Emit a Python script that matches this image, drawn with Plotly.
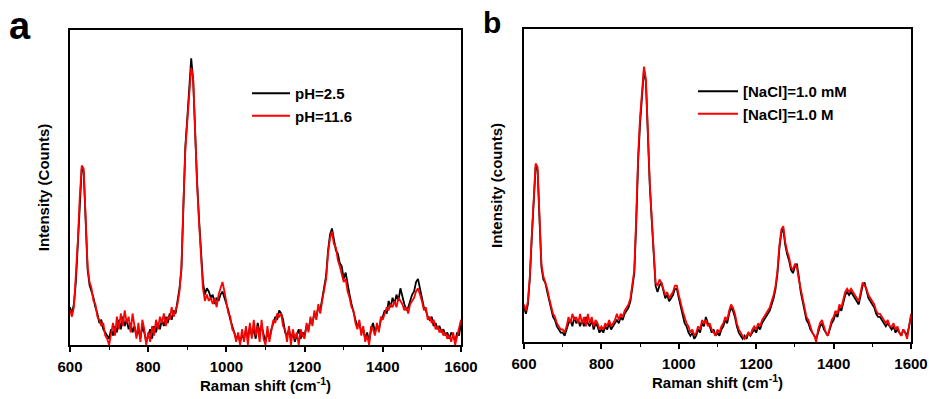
import plotly.graph_objects as go

# Raman shift grid (cm^-1), 5 cm^-1 steps
RAMAN_SHIFT = list(range(600, 1605, 5))

# Panel a: relative intensity (0-100 of plot height)
A_PH_2_5 = [
    12, 10, 13, 20, 32, 46, 56, 55, 40, 24,
    19, 17, 15, 12, 10, 7, 8, 5, 4, 3,
    2, 5, 3, 6, 4, 8, 5, 9, 6, 8,
    5, 7, 4, 6, 3, 5, 2, 6, 4, 1,
    3, 5, 2, 6, 4, 7, 5, 8, 6, 9,
    7, 10, 8, 11, 10, 14, 18, 24, 44, 63,
    72, 80, 91, 84, 66, 52, 40, 28, 20, 16,
    18, 17, 15, 16, 13, 15, 14, 16, 17, 15,
    13, 11, 8, 6, 4, 2, 3, 1, 3, 2,
    5, 2, 6, 3, 5, 2, 7, 4, 6, 3,
    1, 4, 2, 5, 7, 9, 8, 11, 10, 8,
    4, 3, 5, 2, 4, 1, 3, 5, 2, 4,
    3, 6, 5, 8, 7, 10, 9, 12, 11, 15,
    18, 22, 30, 35, 37, 33, 30, 29, 26, 25,
    21, 23, 19, 16, 13, 10, 8, 6, 7, 4,
    5, 2, 4, 1, 5, 7, 4, 6, 5, 8,
    9, 11, 10, 14, 12, 15, 13, 16, 14, 18,
    15, 13, 11, 12, 14, 16, 17, 20, 21, 18,
    15, 12, 11, 9, 8, 9, 6, 7, 5, 6,
    4, 5, 3, 4, 2, 4, 3, 1, 4, 3,
    7,
]
A_PH_11_6 = [
    11, 9, 12, 21, 33, 47, 57, 56, 41, 25,
    20, 18, 14, 13, 9, 8, 6, 7, 3, 2,
    0, 4, 7, 3, 9, 5, 10, 6, 11, 7,
    9, 4, 10, 6, 2, 7, 1, 8, 5, 0,
    4, 1, 6, 3, 8, 5, 9, 7, 10, 6,
    9, 8, 12, 9, 11, 13, 17, 25, 45, 62,
    71, 79, 88, 85, 67, 51, 39, 27, 18, 14,
    16, 14, 15, 13, 15, 12, 16, 18, 20, 17,
    14, 10, 9, 5, 4, 1, 4, 0, 5, 1,
    6, 0, 7, 2, 8, 3, 6, 1, 8, 2,
    0, 6, 1, 4, 8, 7, 10, 9, 10, 6,
    5, 1, 6, 0, 5, 2, 4, 0, 5, 3,
    2, 7, 4, 9, 6, 11, 8, 13, 10, 14,
    17, 21, 29, 34, 36, 32, 31, 27, 25, 22,
    20, 21, 17, 15, 12, 11, 7, 5, 8, 3,
    6, 1, 3, 0, 6, 5, 3, 7, 4, 9,
    8, 10, 12, 11, 13, 12, 14, 12, 15, 14,
    13, 11, 12, 10, 13, 14, 15, 17, 18, 16,
    14, 11, 12, 8, 9, 7, 8, 5, 6, 4,
    5, 3, 4, 2, 3, 1, 4, 0, 3, 5,
    8,
]

# Panel b
B_NACL_1MM = [
    11, 9, 12, 20, 33, 47, 56, 55, 38, 24,
    20, 19, 16, 13, 10, 8, 7, 5, 4, 3,
    3, 2, 4, 6, 7, 5, 8, 6, 7, 5,
    7, 5, 8, 6, 5, 7, 4, 6, 5, 3,
    4, 3, 5, 4, 6, 4, 5, 6, 7, 6,
    8, 7, 9, 10, 11, 13, 17, 22, 38, 58,
    70, 80, 87, 83, 64, 50, 39, 27, 18, 16,
    18, 19, 16, 14, 15, 13, 14, 15, 17, 17,
    14, 11, 9, 6, 5, 3, 2, 3, 1, 2,
    4, 3, 6, 5, 8, 6, 5, 3, 4, 2,
    3, 2, 4, 5, 7, 6, 9, 11, 10, 8,
    5, 3, 2, 1, 2, 1, 3, 2, 3, 4,
    3, 5, 4, 6, 7, 8, 9, 10, 12, 14,
    17, 22, 30, 35, 36, 31, 28, 26, 23, 22,
    24, 25, 21, 16, 13, 10, 7, 6, 4, 3,
    2, 1, 3, 5, 6, 4, 3, 2, 4, 6,
    7, 9, 8, 11, 10, 13, 15, 16, 15, 16,
    15, 14, 13, 12, 15, 18, 19, 16, 14, 13,
    12, 11, 9, 8, 8, 7, 6, 5, 6, 5,
    4, 5, 3, 4, 3, 2, 4, 3, 2, 5,
    8,
]
B_NACL_1M = [
    12, 10, 13, 21, 34, 48, 57, 56, 39, 25,
    21, 19, 17, 14, 11, 9, 8, 6, 5, 4,
    4, 3, 5, 8, 6, 9, 7, 8, 6, 9,
    6, 8, 5, 9, 6, 8, 5, 7, 6, 4,
    5, 4, 6, 5, 7, 5, 6, 7, 9, 7,
    9, 8, 10, 11, 12, 14, 18, 23, 40, 60,
    72, 81, 88, 84, 65, 51, 40, 28, 19, 18,
    20, 19, 17, 15, 16, 14, 15, 16, 18, 18,
    15, 12, 10, 8, 6, 5, 3, 4, 2, 3,
    5, 4, 7, 6, 7, 5, 6, 4, 3, 2,
    4, 3, 5, 6, 8, 7, 10, 12, 11, 9,
    6, 4, 3, 2, 1, 2, 3, 2, 4, 5,
    4, 6, 5, 7, 8, 9, 10, 11, 13, 15,
    18, 23, 31, 36, 37, 32, 29, 27, 24, 23,
    25, 24, 20, 17, 14, 11, 8, 7, 5, 3,
    2, 0, 4, 6, 7, 5, 3, 2, 5, 7,
    8, 10, 9, 12, 11, 14, 16, 17, 16, 17,
    16, 15, 14, 13, 16, 19, 18, 17, 15, 14,
    13, 12, 10, 9, 9, 8, 7, 6, 7, 5,
    5, 6, 4, 5, 3, 2, 4, 3, 1, 5,
    9,
]

X_TICKS = [600, 800, 1000, 1200, 1400, 1600]

FONT = "Arial, Liberation Sans, sans-serif"
BLACK = "#000000"
RED = "#ff0000"
LW = 1.8

fig = go.Figure()
fig.add_trace(go.Scatter(x=RAMAN_SHIFT, y=A_PH_2_5, mode="lines", name="<b>pH=2.5</b>",
                         line=dict(color=BLACK, width=LW), xaxis="x", yaxis="y", legend="legend"))
fig.add_trace(go.Scatter(x=RAMAN_SHIFT, y=A_PH_11_6, mode="lines", name="<b>pH=11.6</b>",
                         line=dict(color=RED, width=LW), xaxis="x", yaxis="y", legend="legend"))
fig.add_trace(go.Scatter(x=RAMAN_SHIFT, y=B_NACL_1MM, mode="lines", name="<b>[NaCl]=1.0 mM</b>",
                         line=dict(color=BLACK, width=LW), xaxis="x2", yaxis="y2", legend="legend2"))
fig.add_trace(go.Scatter(x=RAMAN_SHIFT, y=B_NACL_1M, mode="lines", name="<b>[NaCl]=1.0 M</b>",
                         line=dict(color=RED, width=LW), xaxis="x2", yaxis="y2", legend="legend2"))

xaxis_common = dict(
    range=[600, 1600], tickvals=X_TICKS, ticks="outside", ticklen=5, tickwidth=1.5,
    tickcolor=BLACK, showline=True, linecolor=BLACK, linewidth=1.5, mirror=True,
    showgrid=False, zeroline=False, automargin=False, ticklabelstandoff=2,
    tickfont=dict(family=FONT, size=15, color=BLACK, weight="bold"),
    minor=dict(ticks="outside", dtick=100, tick0=600, ticklen=3, tickwidth=1.2, tickcolor=BLACK),
    title=dict(text="<b>Raman shift (cm<sup>-1</sup>)</b>", font=dict(family=FONT, size=15, color=BLACK), standoff=3),
)
yaxis_common = dict(
    range=[0, 100], showticklabels=False, ticks="", showline=True, linecolor=BLACK,
    linewidth=1.5, mirror=True, showgrid=False, zeroline=False, automargin=False,
)

fig.update_layout(
    template="none",
    width=929, height=399,
    margin=dict(l=0, r=0, t=0, b=0),
    paper_bgcolor="white", plot_bgcolor="white",
    font=dict(family=FONT, color=BLACK),
    xaxis=dict(domain=[70 / 929, 461 / 929], anchor="y", **xaxis_common),
    yaxis=dict(domain=[1 - 345 / 399, 1 - 30 / 399], anchor="x",
               title=dict(text="<b>Intensity (Counts)</b>", font=dict(family=FONT, size=15, color=BLACK), standoff=15),
               **yaxis_common),
    xaxis2=dict(domain=[524 / 929, 911 / 929], anchor="y2", **xaxis_common),
    yaxis2=dict(domain=[1 - 342 / 399, 1 - 29 / 399], anchor="x2",
                title=dict(text="<b>Intensity (counts)</b>", font=dict(family=FONT, size=15, color=BLACK), standoff=16),
                **yaxis_common),
    legend=dict(x=247 / 929, y=1 - 77 / 399, xanchor="left", yanchor="top",
                bgcolor="rgba(0,0,0,0)", font=dict(family=FONT, size=15, color=BLACK),
                tracegroupgap=0, itemwidth=38),
    legend2=dict(x=693 / 929, y=1 - 75 / 399, xanchor="left", yanchor="top",
                 bgcolor="rgba(0,0,0,0)", font=dict(family=FONT, size=15, color=BLACK),
                 tracegroupgap=0, itemwidth=40),
    showlegend=True,
    annotations=[
        dict(text="<b>a</b>", x=20 / 929, y=1 - 26 / 399, xref="paper", yref="paper",
             xanchor="center", yanchor="middle",
             showarrow=False, font=dict(family=FONT, size=38, color=BLACK)),
        dict(text="<b>b</b>", x=492 / 929, y=1 - 22 / 399, xref="paper", yref="paper",
             xanchor="center", yanchor="middle",
             showarrow=False, font=dict(family=FONT, size=30, color=BLACK)),
    ],
)

fig.write_html("out.html", config={"displayModeBar": False},
               post_script="document.body.style.margin='0px';")
